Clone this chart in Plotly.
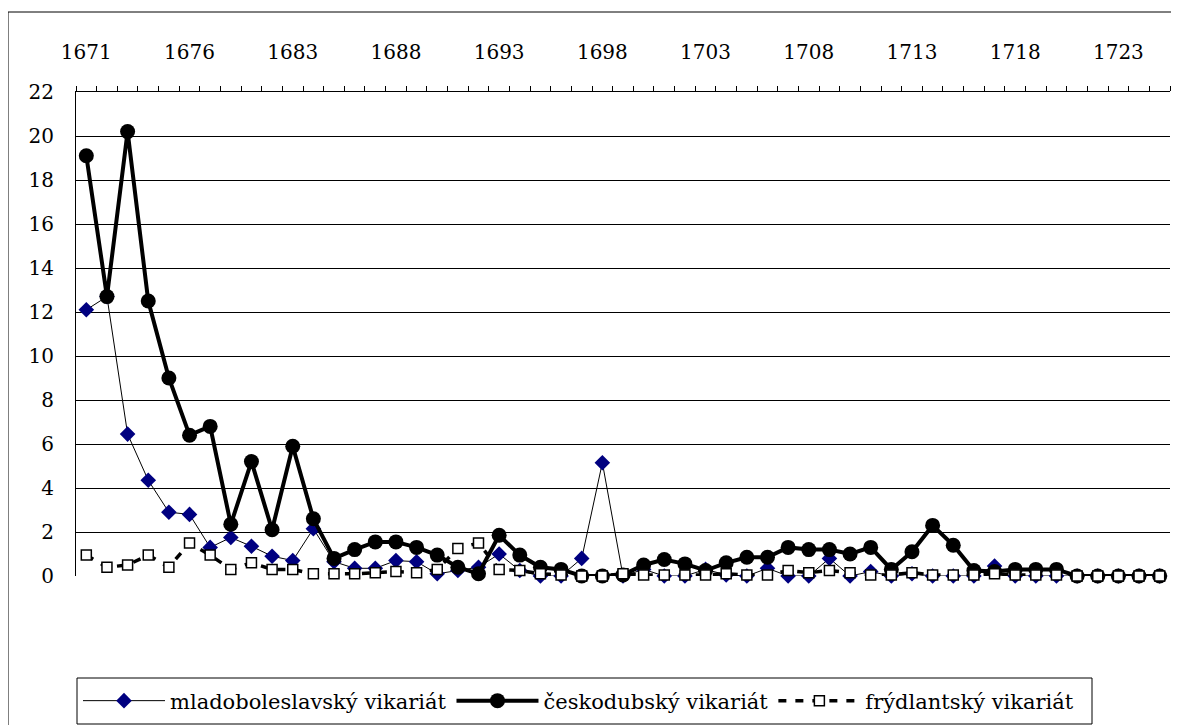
import plotly.graph_objects as go

years = [1671, 1672, 1673, 1674, 1675, 1676, 1677, 1678, 1680, 1682] + list(range(1683, 1726))

mlado = [12.1, 12.7, 6.45, 4.35, 2.9, 2.8, 1.3, 1.75, 1.35, 0.9,
         0.7, 2.15, 0.65, 0.35, 0.35, 0.7, 0.65, 0.1, 0.25, 0.4,
         1.0, 0.25, 0.0, 0.0, 0.8, 5.15, 0.0, 0.3, 0.0, 0.0,
         0.3, 0.05, 0.0, 0.35, 0.0, 0.0, 0.8, 0.0, 0.2, 0.0,
         0.1, 0.0, 0.0, 0.0, 0.45, 0.0, 0.0, 0.0, 0.0, 0.0,
         0.0, 0.0, 0.0]

cesko = [19.1, 12.7, 20.2, 12.5, 9.0, 6.4, 6.8, 2.35, 5.2, 2.1,
         5.9, 2.6, 0.8, 1.2, 1.55, 1.55, 1.3, 0.95, 0.4, 0.1,
         1.85, 0.95, 0.4, 0.3, 0.0, 0.0, 0.05, 0.5, 0.75, 0.55,
         0.25, 0.6, 0.85, 0.85, 1.3, 1.2, 1.2, 1.0, 1.3, 0.3,
         1.1, 2.3, 1.4, 0.25, 0.2, 0.3, 0.3, 0.3, 0.0, 0.0,
         0.0, 0.0, 0.0]

frydl = [0.95, 0.4, 0.5, 0.95, 0.4, 1.5, 0.95, 0.3, 0.6, 0.3,
         0.3, 0.1, 0.1, 0.1, 0.15, 0.2, 0.15, 0.3, 1.25, 1.5,
         0.3, 0.25, 0.1, 0.05, 0.0, 0.0, 0.1, 0.05, 0.05, 0.05,
         0.05, 0.1, 0.05, 0.05, 0.25, 0.15, 0.25, 0.15, 0.05, 0.05,
         0.15, 0.05, 0.05, 0.05, 0.1, 0.05, 0.05, 0.05, 0.0, 0.0,
         0.0, 0.0, 0.0]

names = ["mladoboleslavský vikariát", "českodubský vikariát", "frýdlantský vikariát"]

FONT = "DejaVu Serif"
x = list(range(len(years)))

fig = go.Figure()
fig.add_trace(go.Scatter(
    x=x, y=mlado, name=names[0], mode="lines+markers", cliponaxis=False,
    line=dict(color="black", width=1),
    marker=dict(symbol="diamond", size=12, color="#000080", line=dict(width=0)),
))
fig.add_trace(go.Scatter(
    x=x, y=cesko, name=names[1], mode="lines+markers", cliponaxis=False,
    line=dict(color="black", width=4),
    marker=dict(symbol="circle", size=15, color="black", line=dict(width=0)),
))
fig.add_trace(go.Scatter(
    x=x, y=frydl, name=names[2], mode="lines+markers", cliponaxis=False,
    line=dict(color="black", width=3.5, dash="8px,9px"),
    marker=dict(symbol="square", size=10, color="white", line=dict(color="black", width=1.5)),
))

# page has an 8px body margin: figure coordinates = page coordinates - 8
OFF = 8
W, H = 1179 - OFF, 725 - OFF
L, T = 76 - OFF, 92 - OFF
R = W - (1170 - OFF)
B = H - (576 - OFF)
pw, ph = W - L - R, H - T - B


def px(page_x):
    return (page_x - 76) / pw


def py(page_y):
    return (576 - page_y) / ph


fig.update_layout(
    width=W, height=H, autosize=False,
    margin=dict(l=L, r=R, t=T, b=B, pad=0, autoexpand=False),
    paper_bgcolor="white", plot_bgcolor="white",
    font=dict(family=FONT, size=20, color="black"),
    showlegend=True,
    legend=dict(
        orientation="h", x=px(78), y=py(701),
        xanchor="left", yanchor="middle",
        borderwidth=0, bgcolor="rgba(0,0,0,0)",
        font=dict(family=FONT, size=21, color="black"),
        itemwidth=82, tracegroupgap=0,
    ),
    xaxis=dict(
        range=[-0.5, len(years) - 0.5], side="top", automargin=False,
        tickmode="array", tickvals=x[::5], ticktext=[str(v) for v in years[::5]],
        ticks="", showgrid=False, zeroline=False,
        showline=True, linecolor="black", linewidth=1,
        tickfont=dict(family=FONT, size=20, color="black"),
        ticklabelstandoff=24,
        minor=dict(tickmode="linear", tick0=-0.5, dtick=1, ticks="outside",
                   ticklen=5, tickcolor="black", tickwidth=1, showgrid=False),
    ),
    yaxis=dict(
        range=[0, 22], tickmode="linear", tick0=0, dtick=2, automargin=False,
        showgrid=True, gridcolor="black", gridwidth=1,
        zeroline=False, showline=True, linecolor="black", linewidth=1,
        ticks="", tickfont=dict(family=FONT, size=20, color="black"),
        ticklabelstandoff=17,
    ),
    shapes=[
        dict(type="rect", xref="paper", yref="paper",
             x0=px(8), x1=px(1189), y0=py(735), y1=py(12),
             line=dict(color="black", width=1), fillcolor="rgba(0,0,0,0)", layer="below"),
        dict(type="rect", xref="paper", yref="paper",
             x0=px(77), x1=px(1092), y0=py(724), y1=py(678),
             line=dict(color="black", width=1), fillcolor="white", layer="below"),
    ],
)

fig.write_html("out.html")
